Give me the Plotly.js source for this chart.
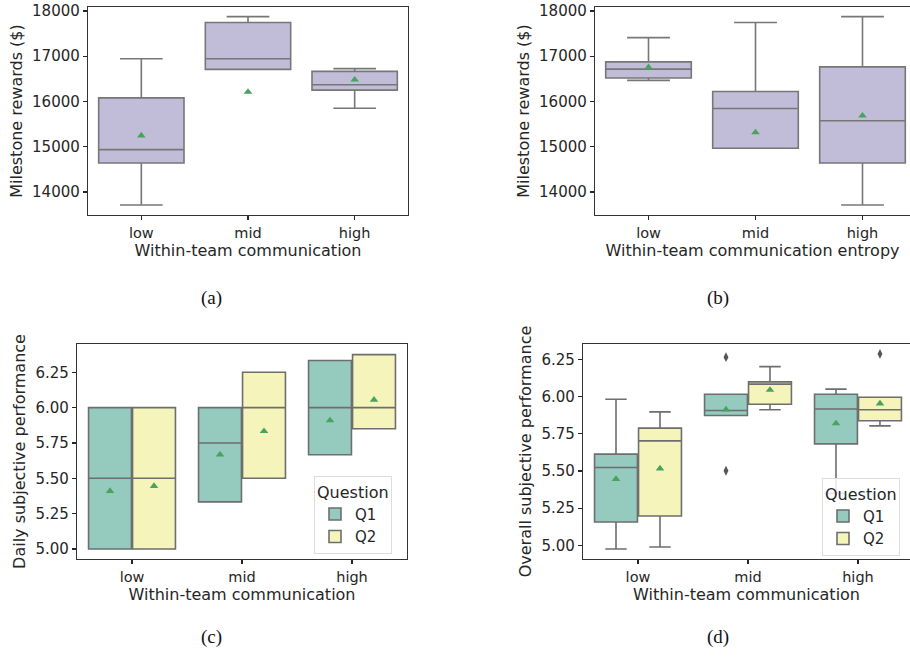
<!DOCTYPE html>
<html>
<head>
<meta charset="utf-8">
<script src="https://cdn.plot.ly/plotly-3.0.1.min.js"></script>
<style>html,body{margin:0;padding:0;background:#fff;}#chart{width:910px;height:659px;}</style>
</head>
<body>
<div id="chart"></div>
<script>
// ---- data ----
const categories = ['low', 'mid', 'high'];

// (a) Milestone rewards by within-team communication
const aLowerFence = [13710, 16710, 15850];
const aQ1 = [14640, 16710, 16250];
const aMedian = [14935, 16945, 16370];
const aQ3 = [16080, 17745, 16665];
const aUpperFence = [16945, 17875, 16725];
const aMean = [15245, 16210, 16480];

// (b) Milestone rewards by within-team communication entropy
const bLowerFence = [16465, 14965, 13710];
const bQ1 = [16520, 14965, 14640];
const bMedian = [16715, 15845, 15575];
const bQ3 = [16875, 16220, 16765];
const bUpperFence = [17410, 17745, 17875];
const bMean = [16755, 15315, 15685];

// (c) Daily subjective performance, Q1 and Q2
const cQ1Lower = [5.0, 5.333, 5.667];
const cQ1Q1 = [5.0, 5.333, 5.667];
const cQ1Median = [5.5, 5.75, 6.0];
const cQ1Q3 = [6.0, 6.0, 6.333];
const cQ1Upper = [6.0, 6.0, 6.333];
const cQ1Mean = [5.41, 5.667, 5.909];

const cQ2Lower = [5.0, 5.5, 5.85];
const cQ2Q1 = [5.0, 5.5, 5.85];
const cQ2Median = [5.5, 6.0, 6.0];
const cQ2Q3 = [6.0, 6.25, 6.375];
const cQ2Upper = [6.0, 6.25, 6.375];
const cQ2Mean = [5.445, 5.833, 6.055];

// (d) Overall subjective performance, Q1 and Q2
const dQ1Lower = [4.975, 5.874, 5.35];
const dQ1Q1 = [5.157, 5.874, 5.683];
const dQ1Median = [5.524, 5.907, 5.918];
const dQ1Q3 = [5.614, 6.017, 6.017];
const dQ1Upper = [5.983, 6.017, 6.051];
const dQ1Mean = [5.446, 5.914, 5.82];

const dQ2Lower = [4.989, 5.912, 5.804];
const dQ2Q1 = [5.197, 5.95, 5.838];
const dQ2Median = [5.703, 6.085, 5.912];
const dQ2Q3 = [5.789, 6.10, 5.997];
const dQ2Upper = [5.898, 6.203, 5.997];
const dQ2Mean = [5.517, 6.046, 5.954];

const dQ1OutlierCat = ['mid', 'mid'];
const dQ1OutlierVal = [6.266, 5.502];
const dQ2OutlierCat = ['high'];
const dQ2OutlierVal = [6.288];

const questions = ['Q1', 'Q2'];

// ---- styles ----
const FONT = 'DejaVu Sans';
const TXT = '#262626';
const PURPLE = '#c1bdd8';
const TEAL = '#95cabf';
const YELLOW = '#f5f5bb';
const GREY_AB = '#777777';
const GREY_CD = '#6e6e6e';
const MEAN_GREEN = '#47a35e';

const idx = c => categories.indexOf(c);
const pos = (cats, off) => cats.map(c => idx(c) + off);

function boxTrace(xa, ya, xs, lo, q1, med, q3, up, fill, line, width, name, legend, showlegend) {
  return {
    type: 'box', xaxis: xa, yaxis: ya, x: xs,
    lowerfence: lo, q1: q1, median: med, q3: q3, upperfence: up,
    width: width, whiskerwidth: 0.5,
    fillcolor: fill, line: {color: line, width: 1.6},
    name: name, legend: legend, showlegend: showlegend,
    hoverinfo: 'skip', boxpoints: false
  };
}
function meanTrace(xa, ya, xs, ys) {
  return {
    type: 'scatter', mode: 'markers', xaxis: xa, yaxis: ya, x: xs, y: ys,
    marker: {symbol: 'triangle-up', size: 7.5, color: MEAN_GREEN},
    showlegend: false, hoverinfo: 'skip'
  };
}
function outlierTrace(xa, ya, xs, ys) {
  return {
    type: 'scatter', mode: 'markers', xaxis: xa, yaxis: ya, x: xs, y: ys,
    marker: {symbol: 'diamond-tall', size: 7, color: '#555555'},
    showlegend: false, hoverinfo: 'skip'
  };
}

const allPos = pos(categories, 0);
const q1Pos = pos(categories, -0.2);
const q2Pos = pos(categories, 0.2);

const traces = [
  boxTrace('x', 'y', allPos, aLowerFence, aQ1, aMedian, aQ3, aUpperFence, PURPLE, GREY_AB, 0.8, 'a', 'legend', false),
  meanTrace('x', 'y', allPos, aMean),
  boxTrace('x2', 'y2', allPos, bLowerFence, bQ1, bMedian, bQ3, bUpperFence, PURPLE, GREY_AB, 0.8, 'b', 'legend', false),
  meanTrace('x2', 'y2', allPos, bMean),

  boxTrace('x3', 'y3', q1Pos, cQ1Lower, cQ1Q1, cQ1Median, cQ1Q3, cQ1Upper, TEAL, GREY_CD, 0.39, questions[0], 'legend', true),
  boxTrace('x3', 'y3', q2Pos, cQ2Lower, cQ2Q1, cQ2Median, cQ2Q3, cQ2Upper, YELLOW, GREY_CD, 0.39, questions[1], 'legend', true),
  meanTrace('x3', 'y3', q1Pos, cQ1Mean),
  meanTrace('x3', 'y3', q2Pos, cQ2Mean),

  boxTrace('x4', 'y4', q1Pos, dQ1Lower, dQ1Q1, dQ1Median, dQ1Q3, dQ1Upper, TEAL, GREY_CD, 0.39, questions[0], 'legend2', true),
  boxTrace('x4', 'y4', q2Pos, dQ2Lower, dQ2Q1, dQ2Median, dQ2Q3, dQ2Upper, YELLOW, GREY_CD, 0.39, questions[1], 'legend2', true),
  outlierTrace('x4', 'y4', pos(dQ1OutlierCat, -0.2), dQ1OutlierVal),
  outlierTrace('x4', 'y4', pos(dQ2OutlierCat, 0.2), dQ2OutlierVal),
  meanTrace('x4', 'y4', q1Pos, dQ1Mean),
  meanTrace('x4', 'y4', q2Pos, dQ2Mean)
];

const W = 910, H = 659;
const dx = (a, b) => [a / W, b / W];
const dy = (top, bottom) => [1 - bottom / H, 1 - top / H];

function xAxis(domain, anchor, range, title) {
  return {
    domain: domain, anchor: anchor, range: range,
    tickmode: 'array', tickvals: [0, 1, 2], ticktext: categories,
    ticks: 'outside', ticklen: 4, tickwidth: 1.2, tickcolor: TXT,
    showline: true, mirror: true, linecolor: '#333333', linewidth: 1.2,
    showgrid: false, zeroline: false,
    tickfont: {family: FONT, size: 14.5, color: TXT},
    title: {text: title, font: {family: FONT, size: 16, color: TXT}, standoff: 3}
  };
}
function yAxis(domain, anchor, range, tickvals, fmt, title) {
  return {
    domain: domain, anchor: anchor, range: range,
    tickmode: 'array', tickvals: tickvals,
    tickformat: fmt,
    ticks: 'outside', ticklen: 4, tickwidth: 1.2, tickcolor: TXT,
    showline: true, mirror: true, linecolor: '#333333', linewidth: 1.2,
    showgrid: false, zeroline: false,
    tickfont: {family: FONT, size: 15, color: TXT},
    title: {text: title, font: {family: FONT, size: 16, color: TXT}, standoff: 5}
  };
}

const rewardTicks = [14000, 15000, 16000, 17000, 18000];
const perfTicks = [5.0, 5.25, 5.5, 5.75, 6.0, 6.25];

const legendStyle = (x, y) => ({
  x: x, y: y, xref: 'paper', yref: 'paper', xanchor: 'left', yanchor: 'top',
  bgcolor: 'rgba(255,255,255,0.85)', bordercolor: '#dddddd', borderwidth: 1,
  font: {family: FONT, size: 15, color: TXT},
  title: {text: 'Question', side: 'top', font: {family: FONT, size: 16, color: TXT}},
  tracegroupgap: 2, itemwidth: 30
});

const layout = {
  width: W, height: H,
  margin: {l: 0, r: 0, t: 0, b: 0},
  paper_bgcolor: '#ffffff', plot_bgcolor: '#ffffff',
  boxmode: 'overlay',
  xaxis: xAxis(dx(88, 408), 'y', [-0.5, 2.5], 'Within-team communication'),
  yaxis: yAxis(dy(7, 215), 'x', [13490, 18088], rewardTicks, 'd', 'Milestone rewards ($)'),
  xaxis2: xAxis(dx(595, 910), 'y2', [-0.5, 2.444], 'Within-team communication entropy'),
  yaxis2: yAxis(dy(7, 215), 'x2', [13490, 18088], rewardTicks, 'd', 'Milestone rewards ($)'),
  xaxis3: xAxis(dx(77, 407), 'y3', [-0.5, 2.5], 'Within-team communication'),
  yaxis3: yAxis(dy(344, 559), 'x3', [4.929, 6.45], perfTicks, '.2f', 'Daily subjective performance'),
  xaxis4: xAxis(dx(583, 910), 'y4', [-0.5, 2.473], 'Within-team communication'),
  yaxis4: yAxis(dy(344, 559), 'x4', [4.908, 6.355], perfTicks, '.2f', 'Overall subjective performance'),
  legend: legendStyle(314 / W, 1 - 476 / H),
  legend2: legendStyle(822 / W, 1 - 478 / H),
  annotations: [
    {text: '(a)', x: 211 / W, y: 1 - 298 / H},
    {text: '(b)', x: 718 / W, y: 1 - 298 / H},
    {text: '(c)', x: 211 / W, y: 1 - 637 / H},
    {text: '(d)', x: 718 / W, y: 1 - 637 / H}
  ].map(a => Object.assign(a, {
    xref: 'paper', yref: 'paper', xanchor: 'center', yanchor: 'middle', showarrow: false,
    font: {family: 'Liberation Serif', size: 19, color: '#111111'}
  }))
};

Plotly.newPlot('chart', traces, layout, {displayModeBar: false, staticPlot: true});
</script>
</body>
</html>
